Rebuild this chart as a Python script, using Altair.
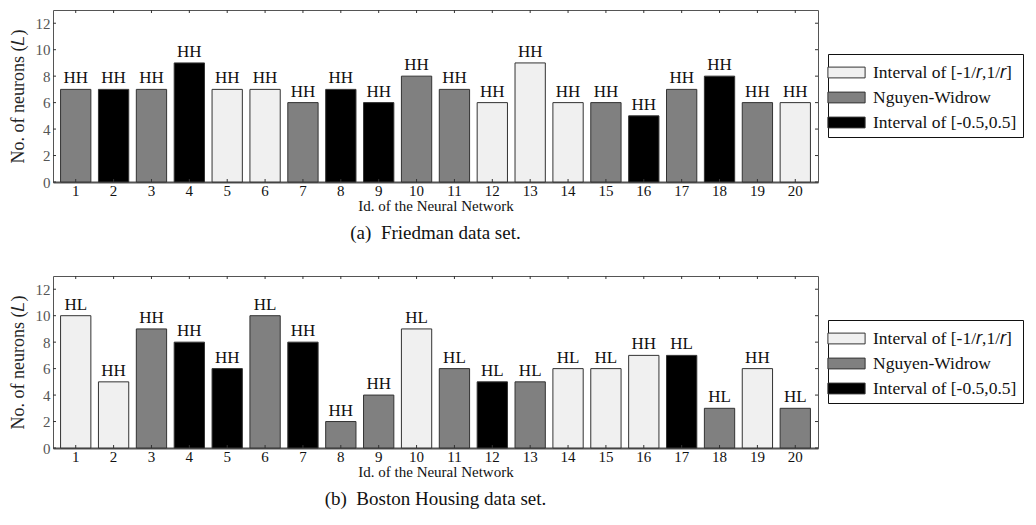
import altair as alt
import pandas as pd

ids = list(range(1, 21))

LIGHT = "Interval of [-1/𝑟,1/𝑟]"
MID = "Nguyen-Widrow"
DARK = "Interval of [-0.5,0.5]"
groups = [LIGHT, MID, DARK]
colors = ["#f0f0f0", "#808080", "#000000"]

fried_values = [7, 7, 7, 9, 7, 7, 6, 7, 6, 8, 7, 6, 9, 6, 6, 5, 7, 8, 6, 6]
fried_groups = [MID, DARK, MID, DARK, LIGHT, LIGHT, MID, DARK, DARK, MID,
                MID, LIGHT, LIGHT, LIGHT, MID, DARK, MID, DARK, MID, LIGHT]
fried_labels = ["HH"] * 20

boston_values = [10, 5, 9, 8, 6, 10, 8, 2, 4, 9, 6, 5, 5, 6, 6, 7, 7, 3, 6, 3]
boston_groups = [LIGHT, LIGHT, MID, DARK, DARK, MID, DARK, MID, MID, LIGHT,
                 MID, DARK, MID, LIGHT, LIGHT, LIGHT, DARK, MID, LIGHT, MID]
boston_labels = ["HL", "HH", "HH", "HH", "HH", "HL", "HH", "HH", "HH", "HL",
                 "HL", "HL", "HL", "HL", "HL", "HH", "HL", "HL", "HH", "HL"]

y_ticks = [0, 2, 4, 6, 8, 10, 12]

W, H = 765, 172
FONT = "Liberation Serif"

xaxis = alt.Axis(title="Id. of the Neural Network", labelAngle=0,
                 ticks=False, domainColor="#555", domainWidth=2,
                 labelPadding=1, titlePadding=0,
                 labelFontSize=15, titleFontSize=15,
                 labelColor="#111", titleColor="#111",
                 labelFont=FONT, titleFont=FONT,
                 titleFontWeight="normal")
yaxis = alt.Axis(title="No. of neurons (𝐿)", values=y_ticks,
                 ticks=False, grid=False, domain=False,
                 labelOverlap=False, labelFlush=False,
                 labelPadding=3, titlePadding=8,
                 labelFontSize=15, titleFontSize=18,
                 labelColor="#555", titleColor="#222",
                 labelFont=FONT, titleFont=FONT,
                 titleFontWeight="normal")
xscale = alt.Scale(paddingInner=0.2, paddingOuter=0.2)
yscale = alt.Scale(domain=[0, 13], nice=False)


def panel(values, grps, labels, caption):
    df = pd.DataFrame({"id": ids, "n": values, "g": grps, "lab": labels})
    tdf = pd.DataFrame({"n": y_ticks})
    xo = alt.X("id:O", scale=xscale, axis=xaxis)
    yo = alt.Y("n:Q", scale=yscale, axis=yaxis)
    base = alt.Chart(df)
    bars = base.mark_bar(stroke="#333", strokeWidth=1).encode(
        x=xo, y=yo,
        color=alt.Color("g:N",
                        scale=alt.Scale(domain=groups, range=colors),
                        legend=alt.Legend(title=None, orient="none",
                                          legendX=775, legendY=44)),
    )
    text = base.mark_text(baseline="bottom", dy=-2, fontSize=17, font=FONT,
                          color="#111").encode(x=xo, y=yo, text="lab:N")
    xt_bot = base.mark_rule(color="#333").encode(
        x=xo, y=alt.value(H), y2=alt.value(H - 3))
    xt_top = base.mark_rule(color="#333").encode(
        x=xo, y=alt.value(0), y2=alt.value(3))
    tb = alt.Chart(tdf)
    yt_l = tb.mark_rule(color="#333").encode(
        y=yo, x=alt.value(0), x2=alt.value(3))
    yt_r = tb.mark_rule(color="#333").encode(
        y=yo, x=alt.value(W - 3), x2=alt.value(W))
    return alt.layer(bars, text, xt_bot, xt_top, yt_l, yt_r).properties(
        width=W, height=H,
        title=alt.TitleParams(caption, orient="bottom", anchor="middle",
                              frame="group", fontSize=19, font=FONT,
                              fontWeight="normal", color="#111", offset=11),
    )


top = panel(fried_values, fried_groups, fried_labels,
            "(a)\u00a0\u00a0Friedman data set.")
bot = panel(boston_values, boston_groups, boston_labels,
            "(b)\u00a0\u00a0Boston Housing data set.")

chart = alt.vconcat(top, bot, spacing=31).resolve_scale(
    color="independent").resolve_legend(color="independent").properties(
    padding={"left": 8, "top": 9, "right": 0, "bottom": 0},
    background="white",
).configure_view(stroke="#555", strokeWidth=1).configure_legend(
    labelFont=FONT, labelFontSize=17.5, labelColor="#111",
    symbolType="M-1.55,-0.45L1.55,-0.45L1.55,0.45L-1.55,0.45Z",
    symbolSize=576, symbolStrokeColor="#333", symbolStrokeWidth=1,
    symbolOpacity=1, symbolLimit=0,
    strokeColor="#111", padding=6, rowPadding=4, labelOffset=14,
    fillColor="white", cornerRadius=0,
)

chart.save("out.html", embed_options={"renderer": "svg", "actions": False})
